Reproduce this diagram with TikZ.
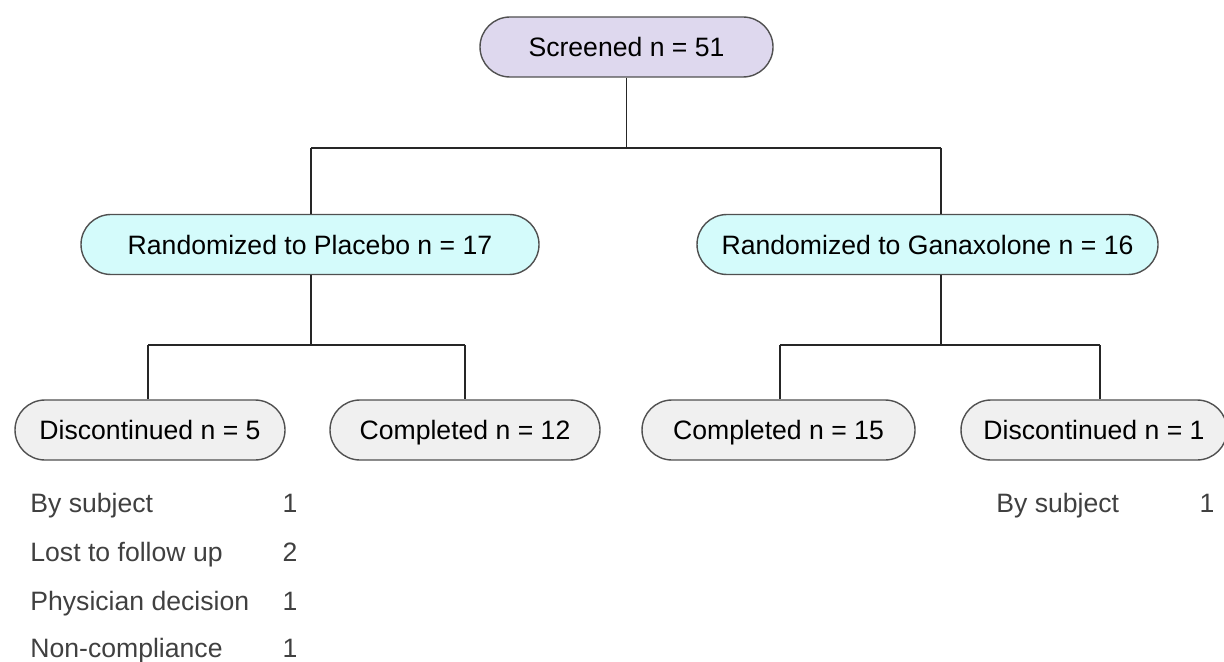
\documentclass[tikz,border=0pt]{standalone}
\usepackage{fontspec}
\setmainfont{Liberation Sans}
\definecolor{scrfill}{RGB}{222,216,238}
\definecolor{armfill}{RGB}{212,251,251}
\definecolor{endfill}{RGB}{240,240,240}
\definecolor{edge}{RGB}{80,80,80}
\definecolor{listtext}{RGB}{64,64,64}
\tikzset{
  pill/.style={draw=edge, line width=0.7pt, rounded corners=15pt, minimum height=30pt, inner sep=0pt, text height=9.6pt, text depth=0pt, font=\fontsize{13.3}{15}\selectfont, text=black},
  conn/.style={draw=black!85, line width=0.6pt},
  listitem/.style={font=\fontsize{13.3}{15}\selectfont, text=listtext, inner sep=0pt, text height=9.6pt, text depth=0pt}
}
\begin{document}
\begin{tikzpicture}[x=0.5pt,y=-0.5pt]
\useasboundingbox (0,0) rectangle (1224,662);
\node[pill, fill=scrfill, minimum width=146.5pt] (scr) at (626.5,47) {Screened n = 51};
\node[pill, fill=armfill, minimum width=229pt] (pl) at (310,244.5) {Randomized to Placebo n = 17};
\node[pill, fill=armfill, minimum width=230.5pt] (gx) at (927.5,244.5) {Randomized to Ganaxolone n = 16};
\node[pill, fill=endfill, minimum width=135pt] (d5) at (150,430) {Discontinued n = 5};
\node[pill, fill=endfill, minimum width=135pt] (c12) at (465,430) {Completed n = 12};
\node[pill, fill=endfill, minimum width=136.5pt] (c15) at (778.5,430) {Completed n = 15};
\node[pill, fill=endfill, minimum width=133pt] (d1) at (1094,430) {Discontinued n = 1};

\coordinate (b0) at (626.5,148);
\coordinate (bL) at (311,148);
\coordinate (bR) at (941,148);
\coordinate (p0) at (311,345);
\coordinate (pL) at (148,345);
\coordinate (pR) at (465,345);
\coordinate (g0) at (941,345);
\coordinate (gL) at (780,345);
\coordinate (gR) at (1100,345);

\draw[conn] (scr.south) -- (b0);
\draw[conn] (bL) -- (bR);
\draw[conn] (bL) -- (pl.north -| bL);
\draw[conn] (bR) -- (gx.north -| bR);
\draw[conn] (pl.south -| p0) -- (p0);
\draw[conn] (pL) -- (pR);
\draw[conn] (pL) -- (d5.north -| pL);
\draw[conn] (pR) -- (c12.north -| pR);
\draw[conn] (gx.south -| g0) -- (g0);
\draw[conn] (gL) -- (gR);
\draw[conn] (gL) -- (c15.north -| gL);
\draw[conn] (gR) -- (d1.north -| gR);

\node[listitem, anchor=west] (l1) at (30,503) {By subject};
\node[listitem, anchor=west] (l2) at (30,552) {Lost to follow up};
\node[listitem, anchor=west] (l3) at (30,601) {Physician decision};
\node[listitem, anchor=west] (l4) at (30,648) {Non-compliance};
\node[listitem] (n1) at (290,503) {1};
\node[listitem] (n2) at (290,552) {2};
\node[listitem] (n3) at (290,601) {1};
\node[listitem] (n4) at (290,648) {1};
\node[listitem, anchor=west] (r1) at (996,503) {By subject};
\node[listitem] (rn1) at (1207,503) {1};
\end{tikzpicture}
\end{document}
